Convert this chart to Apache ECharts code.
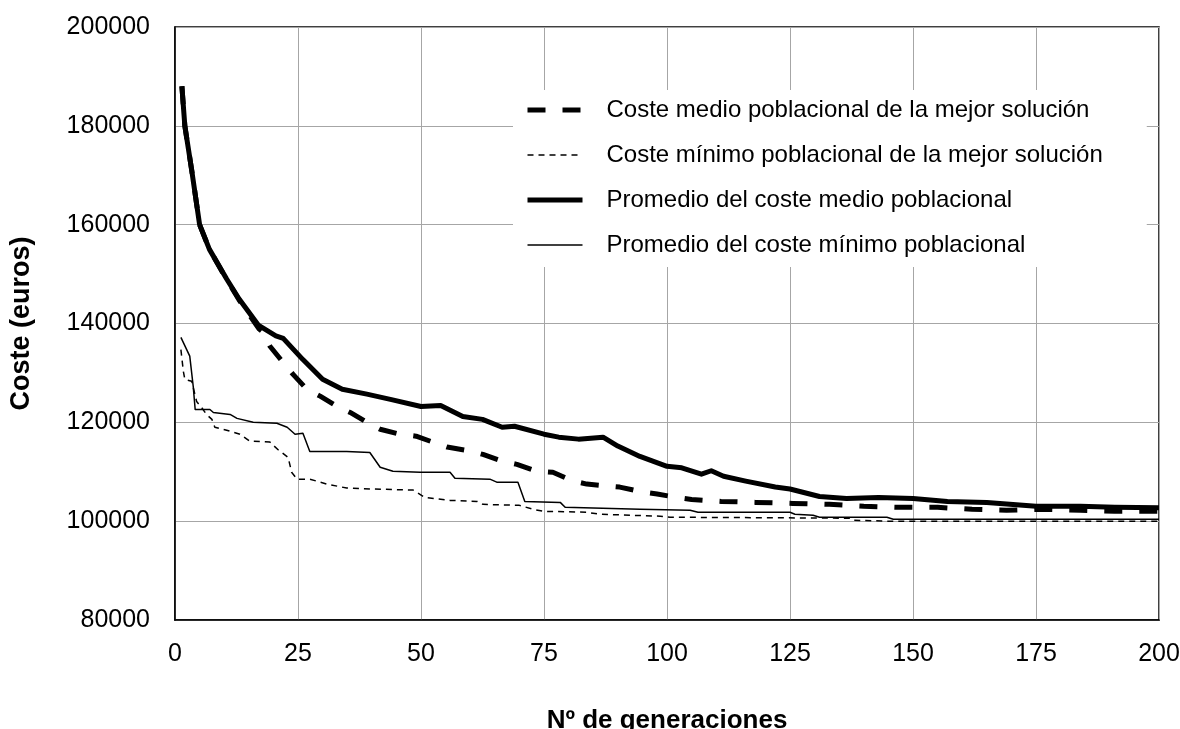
<!DOCTYPE html>
<html>
<head>
<meta charset="utf-8">
<script src="https://cdn.jsdelivr.net/npm/echarts@6/dist/echarts.min.js"></script>
<style>
html,body{margin:0;padding:0;background:#fff;}
#chart{width:1180px;height:729px;}
</style>
</head>
<body>
<div id="chart"></div>
<script>
// ---- Data ----
const xTicks = { min: 0, max: 200, interval: 25 };
const yTicks = { min: 80000, max: 200000, interval: 20000 };

const seriesNames = [
  'Coste medio poblacional de la mejor solución',
  'Coste mínimo poblacional de la mejor solución',
  'Promedio del coste medio poblacional',
  'Promedio del coste mínimo poblacional'
];

// Coste medio poblacional de la mejor solución (thick dashed)
const medioMejorGen = [1.4, 2, 3.4, 5, 7, 10.5, 13, 17, 18, 19.3, 22, 24, 26.8, 29.5, 33, 35.6, 39, 41.7, 45.7, 49, 52.4, 55.3, 60, 62.6, 66.7, 69.5, 73.6, 76.8, 81, 83.7, 88, 90.4, 95, 98, 102, 105, 111, 118, 125.6, 133, 140, 147, 155, 162, 169, 177, 184, 191, 200];
const medioMejorVal = [188000, 180000, 171000, 160000, 155000, 148900, 144800, 139000, 138200, 135400, 132100, 129700, 126700, 125300, 123200, 122000, 120000, 118600, 117600, 117200, 116000, 115000, 114200, 113500, 112100, 111500, 110100, 109900, 108100, 107500, 107100, 106900, 105900, 105500, 104800, 104400, 104000, 103800, 103600, 103400, 103000, 102800, 102800, 102400, 102200, 102400, 102200, 102000, 102000];

// Coste mínimo poblacional de la mejor solución (thin dashed)
const minMejorGen = [1.2, 1.7, 2, 3.4, 4.4, 5.4, 6.4, 7.5, 8.1, 10.5, 13.2, 15.2, 19.3, 20.9, 23, 23.7, 24.8, 27.4, 30.9, 34.9, 40.3, 48.4, 50.8, 55.9, 61.4, 62.6, 70, 72.8, 74.8, 83.7, 86.4, 98.6, 100.6, 137.2, 137.8, 144.7, 200];
const minMejorVal = [134700, 130300, 128700, 128300, 124200, 123000, 121600, 120600, 119000, 118400, 117600, 116200, 116000, 114500, 112900, 109900, 108500, 108500, 107500, 106700, 106500, 106300, 104800, 104200, 104000, 103400, 103200, 102400, 102000, 101800, 101400, 101000, 100800, 100600, 100200, 100000, 100000];

// Promedio del coste medio poblacional (thick solid)
const promMedioGen = [1.4, 2, 3.4, 5, 7, 10.5, 13, 17, 20.5, 22, 26, 30, 34, 39, 44, 50, 54, 58.5, 62.5, 66.5, 69, 75, 78, 82, 87, 90, 94.5, 100, 103, 107, 109, 111.5, 116, 122, 125, 131, 136.5, 143, 150, 157, 165, 175, 184, 191, 200];
const promMedioVal = [188000, 180000, 171000, 160000, 155000, 149000, 145000, 139600, 137500, 137000, 132700, 128700, 126700, 125700, 124600, 123200, 123400, 121200, 120600, 119000, 119200, 117600, 117000, 116600, 117000, 115200, 113100, 111100, 110800, 109500, 110200, 109100, 108100, 106900, 106500, 105000, 104600, 104800, 104600, 104000, 103800, 103000, 103000, 102800, 102700];

// Promedio del coste mínimo poblacional (thin solid)
const promMinGen = [1.2, 3, 3.7, 4.1, 7.1, 7.8, 11.2, 12.6, 15.9, 20.7, 22.8, 24.4, 26, 27.4, 34.9, 39.6, 41.7, 44.3, 49.8, 55.9, 56.9, 64, 65.4, 69.7, 71.1, 78.3, 79.3, 94.5, 104.7, 106.3, 125, 126, 129.7, 131, 144.7, 146, 200];
const promMinVal = [137200, 133400, 127300, 122600, 122600, 122000, 121600, 120800, 120000, 119800, 119000, 117600, 117800, 114100, 114100, 113900, 110900, 110100, 109900, 109900, 108700, 108500, 107900, 107900, 104000, 103800, 102800, 102400, 102200, 101800, 101800, 101400, 101200, 100800, 100800, 100400, 100400];

const xTitle = 'Nº de generaciones';
const yTitle = 'Coste (euros)';

// ---- Chart ----
const pairs = (xs, ys) => xs.map((x, i) => [x, ys[i]]);
const FONT = "'Liberation Sans', Arial, sans-serif";

const styles = [
  { width: 5, type: [18, 17] },
  { width: 1.5, type: [6, 5] },
  { width: 5, type: 'solid' },
  { width: 1.5, type: 'solid' }
];

const chart = echarts.init(document.getElementById('chart'), null, { renderer: 'canvas' });

function lineSeries(i, data) {
  return {
    name: seriesNames[i],
    type: 'line',
    data: data,
    symbol: 'none',
    smooth: false,
    animation: false,
    lineStyle: { color: '#000', width: styles[i].width, type: styles[i].type, cap: 'butt', join: 'round' },
    itemStyle: { color: '#000' },
    emphasis: { disabled: true }
  };
}

chart.setOption({
  backgroundColor: '#fff',
  animation: false,
  grid: {
    left: 175, right: 21, top: 27, bottom: 109,
    containLabel: false,
    outerBoundsMode: 'none',
    show: true, borderColor: '#000', borderWidth: 1.5, backgroundColor: 'transparent'
  },
  legend: {
    orient: 'vertical',
    left: 513, top: 90,
    backgroundColor: '#fff',
    padding: [8, 44, 10, 12],
    itemWidth: 55, itemHeight: 22, itemGap: 21,
    itemStyle: { opacity: 0 },
    textStyle: { fontFamily: FONT, fontSize: 24, color: '#000', lineHeight: 24, padding: [0, 0, 0, 19] },
    data: seriesNames.map((n, i) => ({
      name: n,
      itemStyle: { opacity: 0 },
      lineStyle: { color: '#000', width: styles[i].width, type: styles[i].type, cap: 'butt' }
    })),
    selectedMode: false
  },
  xAxis: {
    type: 'value',
    min: xTicks.min, max: xTicks.max, interval: xTicks.interval,
    name: xTitle, nameLocation: 'middle', nameGap: 88,
    nameTextStyle: { fontFamily: FONT, fontSize: 26, fontWeight: 'bold', color: '#000' },
    axisLine: { show: true, onZero: false, lineStyle: { color: '#000', width: 1.5 } },
    axisTick: { show: false },
    axisLabel: { fontFamily: FONT, fontSize: 25, color: '#000', margin: 22 },
    splitLine: { show: true, lineStyle: { color: '#a6a6a6', width: 1 } }
  },
  yAxis: {
    type: 'value',
    min: yTicks.min, max: yTicks.max, interval: yTicks.interval,
    name: yTitle, nameLocation: 'middle', nameGap: 140, nameRotate: 90,
    nameTextStyle: { fontFamily: FONT, fontSize: 27, fontWeight: 'bold', color: '#000' },
    axisLine: { show: true, lineStyle: { color: '#000', width: 1.5 } },
    axisTick: { show: false },
    axisLabel: { fontFamily: FONT, fontSize: 25, color: '#000', margin: 25, formatter: v => String(v) },
    splitLine: { show: true, lineStyle: { color: '#a6a6a6', width: 1 } }
  },
  series: [
    lineSeries(0, pairs(medioMejorGen, medioMejorVal)),
    lineSeries(1, pairs(minMejorGen, minMejorVal)),
    lineSeries(2, pairs(promMedioGen, promMedioVal)),
    lineSeries(3, pairs(promMinGen, promMinVal))
  ]
});
</script>
</body>
</html>
